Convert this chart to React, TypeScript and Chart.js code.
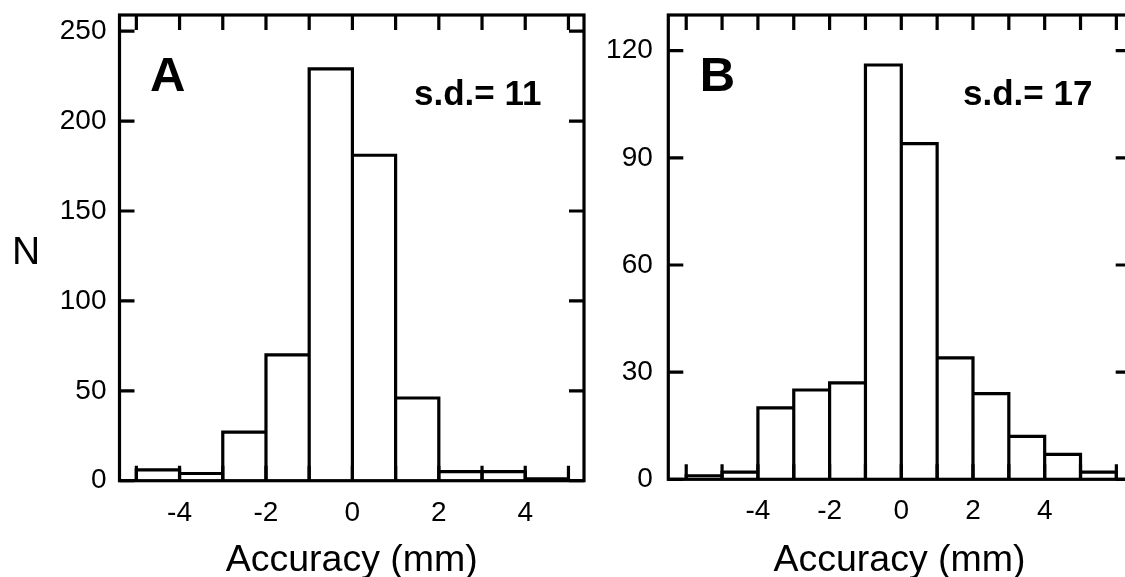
import React, { useEffect, useRef } from "react";
import { Chart, registerables } from "chart.js";

Chart.register(...registerables);

const FONT = "'Liberation Sans', Arial, Helvetica, sans-serif";

// ---- Panel A data (1 mm bins, bin start values) ----
const binStartsA = [-5, -4, -3, -2, -1, 0, 1, 2, 3, 4];
const countsA = [6, 4, 27, 70, 229, 181, 46, 5, 5, 1];

// ---- Panel B data ----
const binStartsB = [-6, -5, -4, -3, -2, -1, 0, 1, 2, 3, 4, 5];
const countsB = [1, 2, 20, 25, 27, 116, 94, 34, 24, 12, 7, 2];

// ---- Ticks & labels ----
const xTickLabels = [-4, -2, 0, 2, 4];
const xMinorTicksA = [-5, -4, -3, -2, -1, 0, 1, 2, 3, 4, 5];
const xMinorTicksB = [-6, -5, -4, -3, -2, -1, 0, 1, 2, 3, 4, 5, 6];
const yTicksA = [0, 50, 100, 150, 200, 250];
const yTicksB = [0, 30, 60, 90, 120];
const panelLetters = ["A", "B"];
const sdLabels = ["s.d.= 11", "s.d.= 17"];
const xTitle = "Accuracy (mm)";
const yTitle = "N";

interface PanelSpec {
  starts: number[];
  counts: number[];
  xMin: number;
  xMax: number;
  yMax: number;
  xMinor: number[];
  yTicks: number[];
  letter: string;
  sd: string;
  yAxisWidth: number;
  padTop: number;
  padRight: number;
  xAxisHeight: number;
  yLabelPad: number;
  letterPos: [number, number];
  sdPos: [number, number];
  showN: boolean;
}

const TICK_LEN = 15;
const LINE_W = 3.2;

function makePlugin(spec: PanelSpec) {
  return {
    id: "frameAndText",
    afterDatasetsDraw(chart: any) {
      const { ctx, chartArea, scales } = chart;
      const { left, right, top, bottom } = chartArea;
      const x = scales.x;
      const y = scales.y;
      ctx.save();
      ctx.strokeStyle = "#000";
      ctx.lineWidth = LINE_W;
      ctx.lineCap = "butt";
      ctx.lineJoin = "miter";
      // bar outlines, from the bar elements laid out by Chart.js
      const meta = chart.getDatasetMeta(0);
      ctx.beginPath();
      for (const el of meta.data as any[]) {
        const props = el.getProps(["x", "y", "base", "width"], true);
        const l = props.x - props.width / 2;
        const r = props.x + props.width / 2;
        ctx.moveTo(l, props.base);
        ctx.lineTo(l, props.y);
        ctx.lineTo(r, props.y);
        ctx.lineTo(r, props.base);
      }
      ctx.stroke();
      // inward ticks on all four sides
      ctx.beginPath();
      for (const v of spec.xMinor) {
        const px = x.getPixelForValue(v);
        ctx.moveTo(px, top);
        ctx.lineTo(px, top + TICK_LEN);
        ctx.moveTo(px, bottom);
        ctx.lineTo(px, bottom - TICK_LEN);
      }
      for (const v of spec.yTicks) {
        const py = y.getPixelForValue(v);
        ctx.moveTo(left, py);
        ctx.lineTo(left + TICK_LEN, py);
        ctx.moveTo(right, py);
        ctx.lineTo(right - TICK_LEN, py);
      }
      ctx.stroke();
      ctx.strokeRect(left, top, right - left, bottom - top);
      ctx.restore();
    },
    afterDraw(chart: any) {
      const { ctx, chartArea } = chart;
      ctx.save();
      ctx.fillStyle = "#000";
      ctx.textBaseline = "alphabetic";
      ctx.textAlign = "left";
      ctx.font = `bold 49px ${FONT}`;
      ctx.fillText(spec.letter, spec.letterPos[0], spec.letterPos[1]);
      ctx.font = `bold 35px ${FONT}`;
      ctx.fillText(spec.sd, spec.sdPos[0], spec.sdPos[1]);
      ctx.font = `37.5px ${FONT}`;
      ctx.textAlign = "center";
      ctx.fillText(xTitle, (chartArea.left + chartArea.right) / 2, 570.5);
      if (spec.showN) {
        ctx.textAlign = "left";
        ctx.font = `39px ${FONT}`;
        ctx.fillText(yTitle, 12, 263.5);
      }
      ctx.restore();
    },
  };
}

function buildChart(canvas: HTMLCanvasElement, spec: PanelSpec) {
  return new Chart(canvas, {
    type: "bar",
    data: {
      datasets: [
        {
          data: spec.starts.map((s, i) => ({ x: s + 0.5, y: spec.counts[i] })),
          backgroundColor: "#ffffff",
          borderWidth: 0,
          barPercentage: 1,
          categoryPercentage: 1,
          inflateAmount: 0,
        } as any,
      ],
    },
    options: {
      responsive: false,
      animation: false,
      events: [],
      layout: { padding: { top: spec.padTop, right: spec.padRight, left: 0, bottom: 0 } },
      plugins: {
        legend: { display: false },
        tooltip: { enabled: false },
        title: { display: false },
      },
      scales: {
        x: {
          type: "linear",
          min: spec.xMin,
          max: spec.xMax,
          offset: false,
          grid: { display: false, drawTicks: false },
          border: { display: false },
          ticks: {
            autoSkip: false,
            maxRotation: 0,
            minRotation: 0,
            padding: 15.5,
            color: "#000",
            font: { family: FONT, size: 28 },
            callback: (v: any) => String(v),
          },
          afterBuildTicks: (s: any) => {
            s.ticks = xTickLabels.map((v) => ({ value: v }));
          },
          afterFit: (s: any) => {
            s.height = spec.xAxisHeight;
            s.paddingLeft = 0;
            s.paddingRight = 0;
            s.paddingTop = 0;
            s.paddingBottom = 0;
          },
        },
        y: {
          type: "linear",
          min: 0,
          max: spec.yMax,
          grid: { display: false, drawTicks: false },
          border: { display: false },
          ticks: {
            autoSkip: false,
            padding: spec.yLabelPad,
            color: "#000",
            font: { family: FONT, size: 28 },
            callback: (v: any) => String(v),
          },
          afterBuildTicks: (s: any) => {
            s.ticks = spec.yTicks.map((v) => ({ value: v }));
          },
          afterFit: (s: any) => {
            s.width = spec.yAxisWidth;
            s.paddingLeft = 0;
            s.paddingRight = 0;
            s.paddingTop = 0;
            s.paddingBottom = 0;
          },
        },
      },
    } as any,
    plugins: [makePlugin(spec) as any],
  });
}

const specA: PanelSpec = {
  starts: binStartsA,
  counts: countsA,
  xMin: -5.39,
  xMax: 5.36,
  yMax: 259,
  xMinor: xMinorTicksA,
  yTicks: yTicksA,
  letter: panelLetters[0],
  sd: sdLabels[0],
  yAxisWidth: 119.5,
  padTop: 15,
  padRight: 16,
  xAxisHeight: 96.3,
  yLabelPad: 13,
  letterPos: [150, 90.7],
  sdPos: [414, 105],
  showN: true,
};

const specB: PanelSpec = {
  starts: binStartsB,
  counts: countsB,
  xMin: -6.5,
  xMax: 6.4,
  yMax: 130,
  xMinor: xMinorTicksB,
  yTicks: yTicksB,
  letter: panelLetters[1],
  sd: sdLabels[1],
  yAxisWidth: 68.3,
  padTop: 15,
  padRight: 9.3,
  xAxisHeight: 97.7,
  yLabelPad: 15.5,
  letterPos: [99.7, 90.7],
  sdPos: [363, 105],
  showN: false,
};

export default function App() {
  const refA = useRef<HTMLCanvasElement | null>(null);
  const refB = useRef<HTMLCanvasElement | null>(null);

  useEffect(() => {
    const charts: Chart[] = [];
    if (refA.current) charts.push(buildChart(refA.current, specA));
    if (refB.current) charts.push(buildChart(refB.current, specB));
    return () => {
      charts.forEach((c) => c.destroy());
    };
  }, []);

  return (
    <div
      style={{
        position: "absolute",
        left: 0,
        top: 0,
        width: 1125,
        height: 577,
        overflow: "hidden",
        background: "#fff",
      }}
    >
      <canvas
        ref={refA}
        width={600}
        height={577}
        style={{ position: "absolute", left: 0, top: 0, width: 600, height: 577 }}
      />
      <canvas
        ref={refB}
        width={540}
        height={577}
        style={{ position: "absolute", left: 600, top: 0, width: 540, height: 577 }}
      />
    </div>
  );
}
